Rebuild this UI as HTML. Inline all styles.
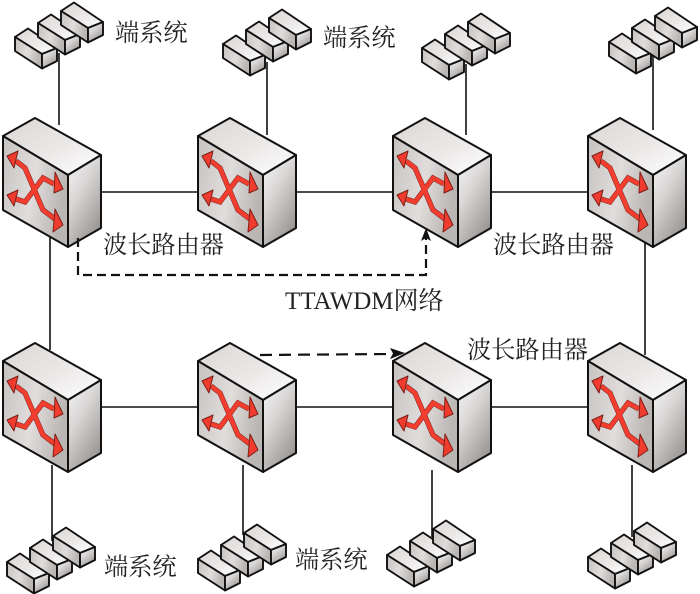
<!DOCTYPE html>
<html><head><meta charset="utf-8"><style>
html,body{margin:0;padding:0;background:#fff;width:700px;height:594px;overflow:hidden}
svg{display:block}
text{fill:#222;font-family:"Liberation Serif","Noto Serif CJK SC",serif;font-size:24.2px}
</style></head><body>
<svg width="700" height="594" viewBox="0 0 700 594" xmlns="http://www.w3.org/2000/svg">
<defs>
<linearGradient id="t" x1="0" y1="0" x2="1" y2="1"><stop offset="0" stop-color="#dad6d4"/><stop offset=".55" stop-color="#ebe9e8"/><stop offset="1" stop-color="#ffffff"/></linearGradient>
<linearGradient id="f" x1="0" y1="0" x2="1" y2="0.3"><stop offset="0" stop-color="#c6c2c0"/><stop offset=".55" stop-color="#e0dddc"/><stop offset="1" stop-color="#bab6b4"/></linearGradient>
<linearGradient id="r" x1="0" y1="0" x2="0.6" y2="1"><stop offset="0" stop-color="#f8f8f8"/><stop offset=".45" stop-color="#d8d6d5"/><stop offset="1" stop-color="#9a9694"/></linearGradient>
<g id="router" stroke="#111" stroke-width="2" stroke-linejoin="round">
<polygon points="35,0 3,18 68,57 101,37" fill="url(#t)"/>
<polygon points="3,18 68,57 68,129 3,92" fill="url(#f)"/>
<polygon points="68,57 101,37 101,110 68,129" fill="url(#r)"/>
<g fill="none" stroke-linejoin="miter">
<polyline points="16,43 25,50 43,92 55,101" stroke="#7a2018" stroke-width="5.2"/>
<polyline points="16,81 25,84 43,60 54,66" stroke="#7a2018" stroke-width="5.2"/>
<polyline points="16,43 25,50 43,92 55,101" stroke="#f23d2f" stroke-width="4.2"/>
<polyline points="16,81 25,84 43,60 54,66" stroke="#f23d2f" stroke-width="4.2"/>
</g>
<g fill="#f03c2e" stroke="#7a2018" stroke-width="1">
<polygon points="7,38 18,33 14,50"/>
<polygon points="63,107 55,91 53,114"/>
<polygon points="7,77 18,72 14,88"/>
<polygon points="63,71 55,54 54,75"/>
</g>
</g>
<g id="block" stroke="#111" stroke-width="1.9" stroke-linejoin="round">
<polygon points="0,0 13,-8.500 42,11 27,17" fill="url(#t)"/>
<polygon points="0,0 27,17 27,31.500 0,14" fill="url(#f)"/>
<polygon points="27,17 42,11 42,24 27,31.500" fill="url(#r)"/>
</g>
<g id="sys">
<use href="#block" x="0" y="0"/>
<use href="#block" x="23" y="-14"/>
<use href="#block" x="46" y="-26"/>
</g>
</defs>

<g stroke="#111" stroke-width="1.6" fill="none">
<path d="M100,192H200M297,192H395M492,192H590M100,407H200M297,407H395M492,407H590"/>
<path d="M50,230V350M645,230V355"/>
</g>

<use href="#sys" x="15" y="37"/>
<use href="#sys" x="223" y="44"/>
<use href="#sys" x="422" y="48"/>
<use href="#sys" x="609" y="42"/>
<use href="#sys" x="7" y="562"/>
<use href="#sys" x="198" y="559"/>
<use href="#sys" x="387" y="555"/>
<use href="#sys" x="588" y="557"/>

<g stroke="#111" stroke-width="1.6" fill="none">
<path d="M59,53V125M267,62V135M466,64V135M653,56V130"/>
<path d="M52,465V541M243,465V535M432,470V537M632,465V537"/>
</g>

<use href="#router" x="0" y="118"/>
<use href="#router" x="195" y="118"/>
<use href="#router" x="390" y="118"/>
<use href="#router" x="585" y="118"/>
<use href="#router" x="0" y="343"/>
<use href="#router" x="195" y="343"/>
<use href="#router" x="390" y="343"/>
<use href="#router" x="585" y="343"/>

<g stroke="#111" stroke-width="2.2" fill="none">
<path d="M78,238V275H426V238" stroke-dasharray="9 5"/>
<path d="M260,355L392,354" stroke-dasharray="12 7"/>
</g>
<polygon points="426,228 421,241 426,238 431,241" fill="#111"/>
<polygon points="405,353 390,348 393,353.500 390,359" fill="#111"/>

<text x="115" y="41">端系统</text>
<text x="323" y="46">端系统</text>
<text x="104" y="575">端系统</text>
<text x="295" y="568">端系统</text>
<text x="103" y="253">波长路由器</text>
<text x="493" y="253">波长路由器</text>
<text x="467" y="358">波长路由器</text>
<text x="285" y="309" style="font-size:25px">TTAWDM网络</text>
</svg>
</body></html>
